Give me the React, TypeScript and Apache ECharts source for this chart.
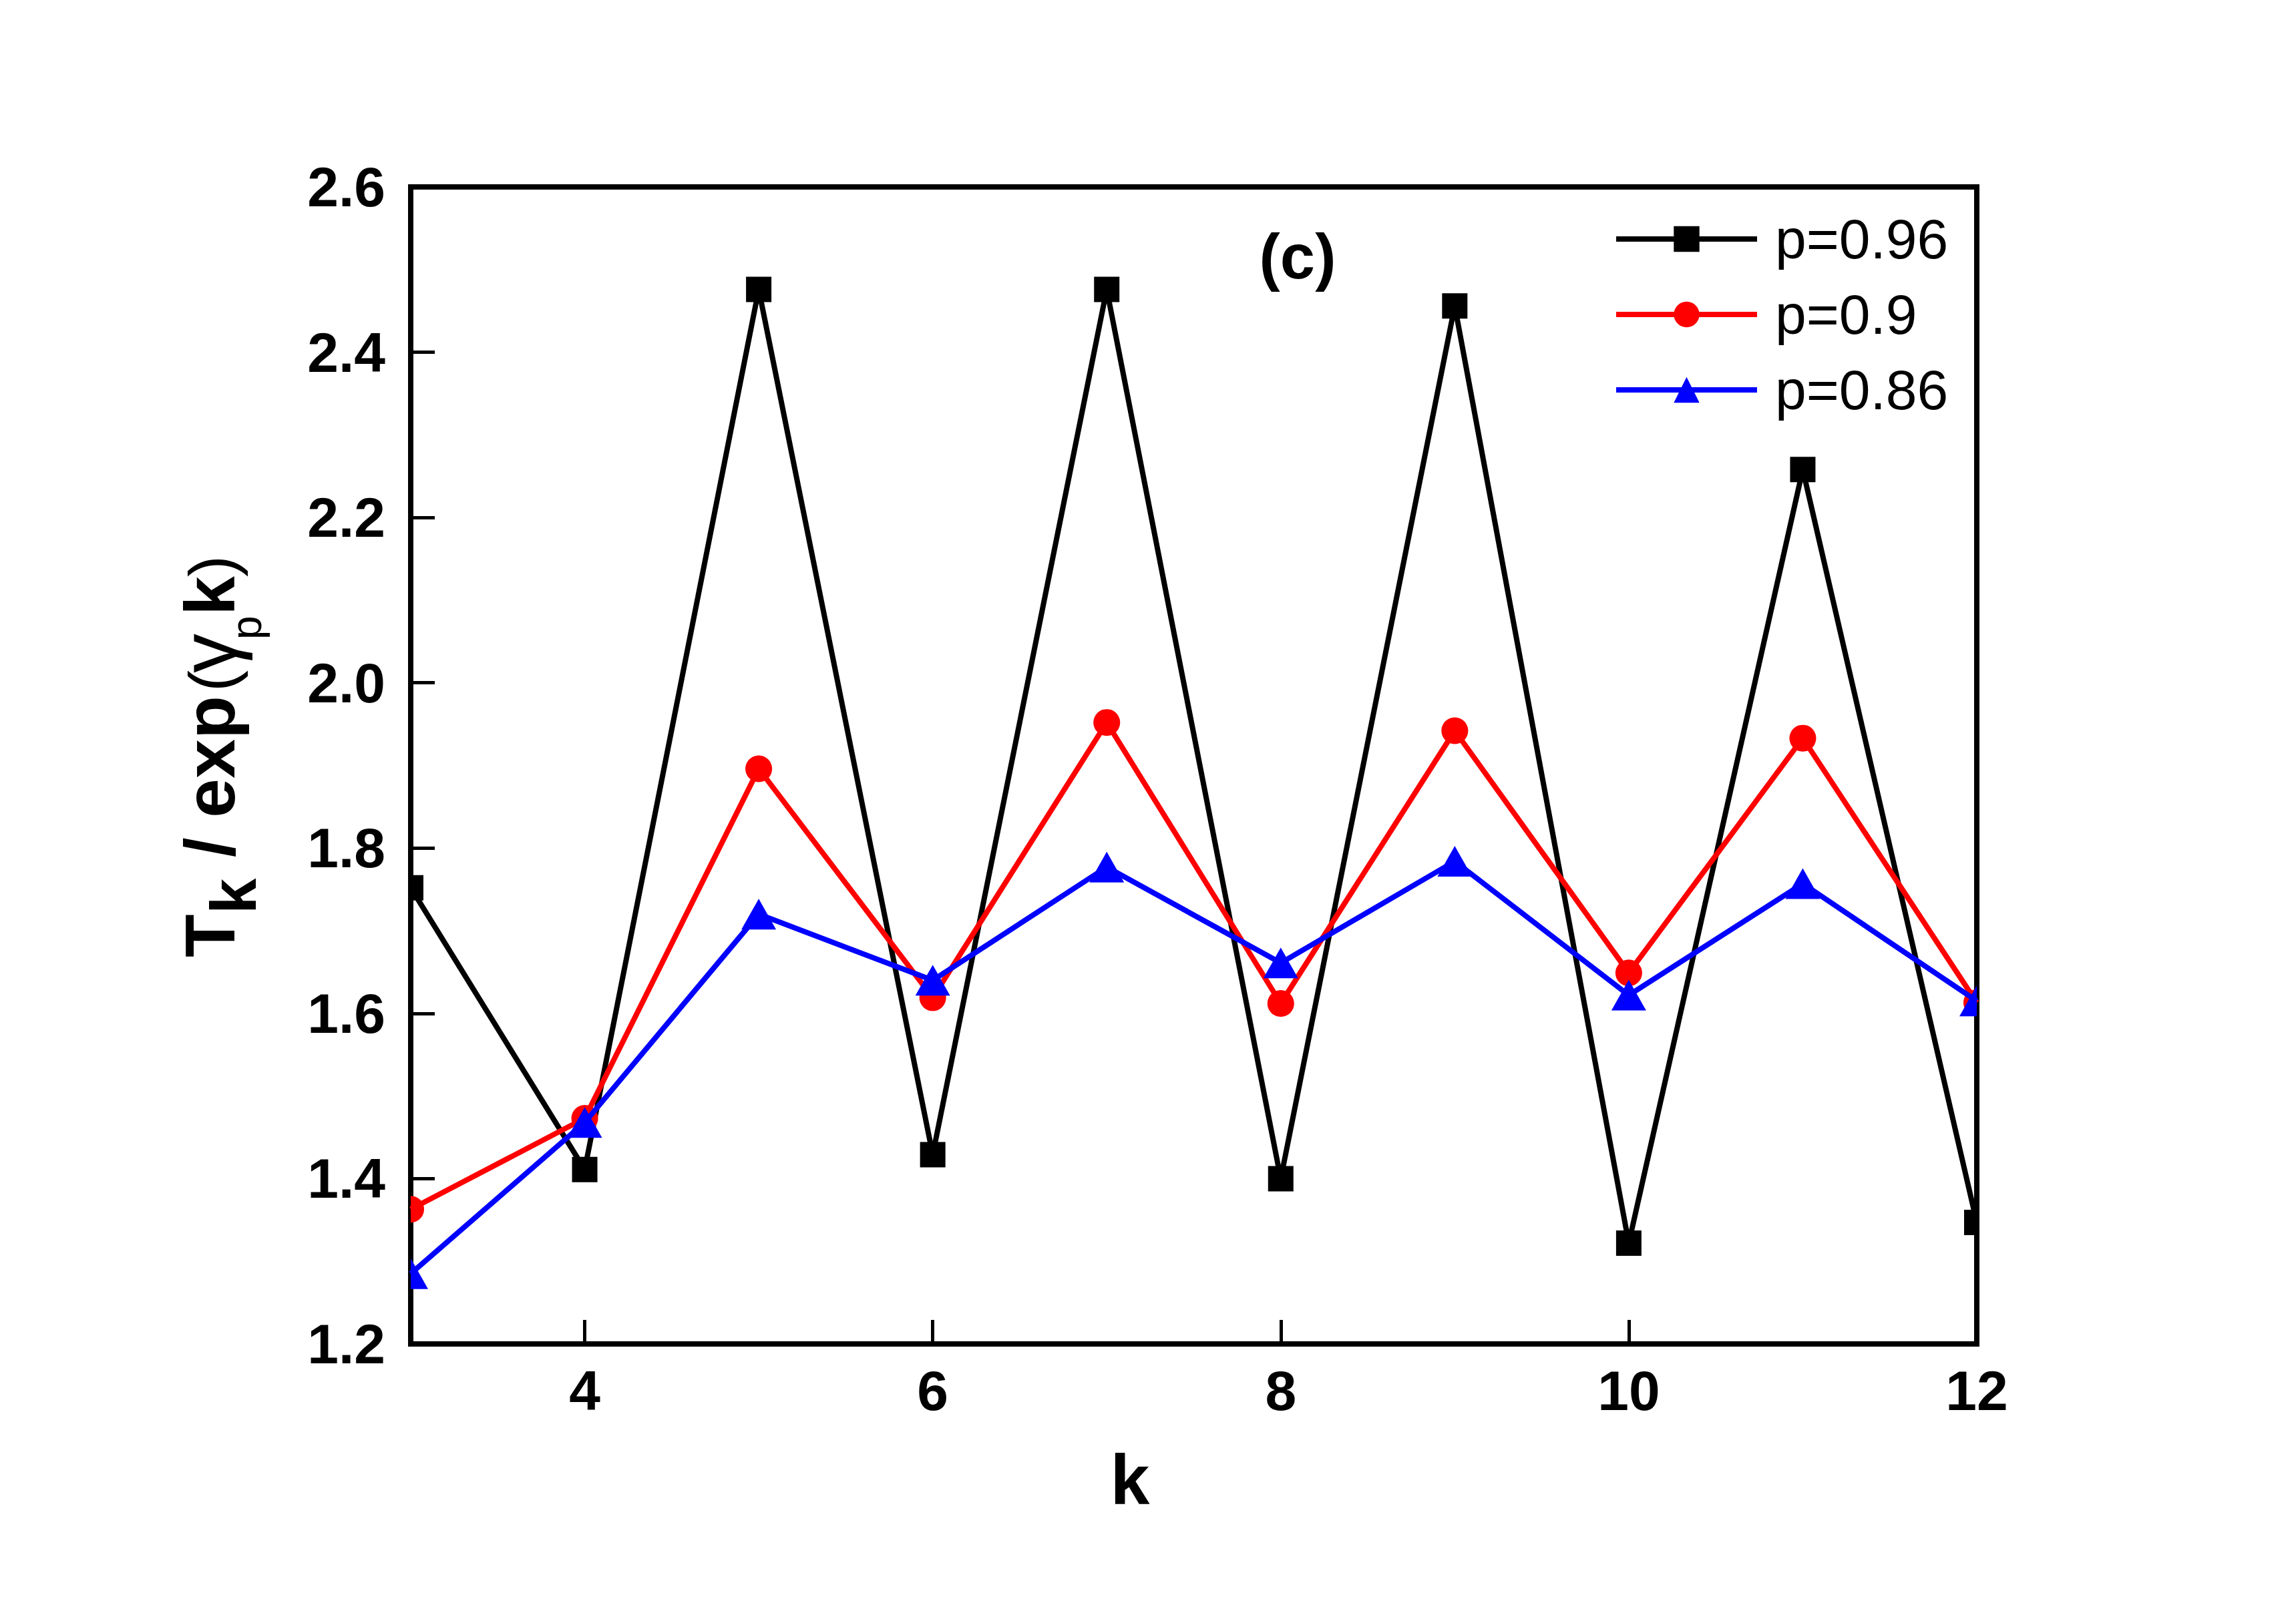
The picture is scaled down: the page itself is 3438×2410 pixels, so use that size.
import React, { useEffect, useRef } from "react";
import * as echarts from "echarts";

const kValues = [3, 4, 5, 6, 7, 8, 9, 10, 11, 12];
const p096 = [1.752, 1.411, 2.476, 1.429, 2.476, 1.4, 2.456, 1.322, 2.258, 1.347];
const p090 = [1.363, 1.473, 1.896, 1.619, 1.952, 1.612, 1.942, 1.649, 1.933, 1.613];
const p086 = [1.285, 1.468, 1.72, 1.64, 1.777, 1.661, 1.784, 1.622, 1.757, 1.615];
const seriesNames = ["p=0.96", "p=0.9", "p=0.86"];
const xTickValues = [4, 6, 8, 10, 12];
const yMin = 1.2;
const yMax = 2.6;
const yStep = 0.2;
const xMin = 3;
const xMax = 12;

const FONT = "'Liberation Sans', Arial, Helvetica, sans-serif";
const C = 0.3465; // central-baseline offset ratio

function pairs(vals: number[]) {
  return kValues.map((k, i) => [k, vals[i]]);
}

export default function App() {
  const ref = useRef<HTMLDivElement>(null);
  useEffect(() => {
    if (!ref.current) return;
    const chart = echarts.init(ref.current, null, { renderer: "svg" });

    const markerSquare = (params: any, api: any) => {
      const p = api.coord([api.value(0), api.value(1)]);
      return {
        type: "rect",
        shape: { x: p[0] - 19, y: p[1] - 19, width: 38, height: 38 },
        style: { fill: "#000000" },
      };
    };
    const markerCircle = (params: any, api: any) => {
      const p = api.coord([api.value(0), api.value(1)]);
      return {
        type: "circle",
        shape: { cx: p[0], cy: p[1], r: 20 },
        style: { fill: "#ff0000" },
      };
    };
    const markerTriangle = (params: any, api: any) => {
      const p = api.coord([api.value(0), api.value(1)]);
      return {
        type: "polygon",
        shape: {
          points: [
            [p[0], p[1] - 23],
            [p[0] + 26, p[1] + 23],
            [p[0] - 26, p[1] + 23],
          ],
        },
        style: { fill: "#0000ff" },
      };
    };

    const titlePieces = [
      { t: "T", x: 0, f: 106, w: "bold", b: 0 },
      { t: "k", x: 65, f: 96, w: "bold", b: 32 },
      { t: "/", x: 150, f: 106, w: "bold", b: 0 },
      { t: "exp", x: 209, f: 106, w: "bold", b: 0 },
      { t: "(", x: 398, f: 96, w: "normal", b: 0 },
      { t: "\u03b3", x: 426, f: 118, w: "normal", b: 2 },
      { t: "p", x: 476, f: 64, w: "normal", b: 40 },
      { t: "k", x: 512, f: 106, w: "bold", b: 0 },
      { t: ")", x: 570, f: 96, w: "normal", b: 0 },
    ];

    const option: any = {
      animation: false,
      backgroundColor: "#ffffff",
      grid: {
        left: 615,
        right: 478,
        top: 280,
        bottom: 397,
        show: true,
        borderColor: "#000000",
        borderWidth: 8,
        backgroundColor: "transparent",
      },
      legend: {
        orient: "vertical",
        left: 2416,
        top: 316,
        itemWidth: 211,
        itemHeight: 48,
        itemGap: 29,
        padding: 0,
        selectedMode: false,
        data: seriesNames,
        lineStyle: { width: 8 },
        textStyle: {
          fontSize: 84,
          fontFamily: FONT,
          color: "#000000",
          padding: [0, 0, 0, 22],
        },
      },
      xAxis: {
        type: "value",
        min: xMin,
        max: xMax,
        splitLine: { show: false },
        axisLine: { show: true, lineStyle: { color: "#000000", width: 8 } },
        axisTick: {
          show: true,
          inside: true,
          length: 36,
          customValues: xTickValues,
          lineStyle: { color: "#000000", width: 5 },
        },
        axisLabel: {
          show: true,
          customValues: xTickValues,
          margin: 28,
          fontSize: 84,
          fontWeight: "bold",
          fontFamily: FONT,
          color: "#000000",
        },
      },
      yAxis: {
        type: "value",
        min: yMin,
        max: yMax,
        interval: yStep,
        splitLine: { show: false },
        axisLine: { show: true, lineStyle: { color: "#000000", width: 8 } },
        axisTick: {
          show: true,
          inside: true,
          length: 36,
          lineStyle: { color: "#000000", width: 5 },
        },
        axisLabel: {
          show: true,
          margin: 38,
          fontSize: 84,
          fontWeight: "bold",
          fontFamily: FONT,
          color: "#000000",
          formatter: (v: number) => v.toFixed(1),
        },
      },
      graphic: [
        {
          type: "group",
          x: 351,
          y: 1434,
          rotation: Math.PI / 2,
          children: titlePieces.map((p) => ({
            type: "text",
            x: p.x,
            y: p.b - C * p.f,
            style: {
              text: p.t,
              fontSize: p.f,
              fontWeight: p.w,
              fontFamily: FONT,
              fill: "#000000",
              align: "left",
              verticalAlign: "middle",
            },
          })),
        },
        {
          type: "text",
          x: 1692,
          y: 2253 - C * 106,
          style: {
            text: "k",
            fontSize: 106,
            fontWeight: "bold",
            fontFamily: FONT,
            fill: "#000000",
            align: "center",
            verticalAlign: "middle",
          },
        },
        {
          type: "text",
          x: 1943,
          y: 417 - C * 94,
          style: {
            text: "(c)",
            fontSize: 94,
            fontWeight: "bold",
            fontFamily: FONT,
            fill: "#000000",
            align: "center",
            verticalAlign: "middle",
          },
        },
      ],
      series: [
        {
          name: seriesNames[0],
          type: "line",
          data: pairs(p096),
          symbol: "rect",
          showSymbol: false,
          clip: true,
          z: 2,
          lineStyle: { color: "#000000", width: 8 },
          itemStyle: { color: "#000000" },
        },
        {
          type: "custom",
          data: pairs(p096),
          renderItem: markerSquare,
          clip: true,
          z: 3,
          encode: { x: 0, y: 1 },
        },
        {
          name: seriesNames[1],
          type: "line",
          data: pairs(p090),
          symbol: "circle",
          showSymbol: false,
          clip: true,
          z: 4,
          lineStyle: { color: "#ff0000", width: 8 },
          itemStyle: { color: "#ff0000" },
        },
        {
          type: "custom",
          data: pairs(p090),
          renderItem: markerCircle,
          clip: true,
          z: 5,
          encode: { x: 0, y: 1 },
        },
        {
          name: seriesNames[2],
          type: "line",
          data: pairs(p086),
          symbol: "triangle",
          showSymbol: false,
          clip: true,
          z: 6,
          lineStyle: { color: "#0000ff", width: 8 },
          itemStyle: { color: "#0000ff" },
        },
        {
          type: "custom",
          data: pairs(p086),
          renderItem: markerTriangle,
          clip: true,
          z: 7,
          encode: { x: 0, y: 1 },
        },
      ],
    };
    chart.setOption(option);
    return () => chart.dispose();
  }, []);

  return (
    <div
      ref={ref}
      style={{ position: "absolute", left: 0, top: 0, width: 3438, height: 2410 }}
    />
  );
}
